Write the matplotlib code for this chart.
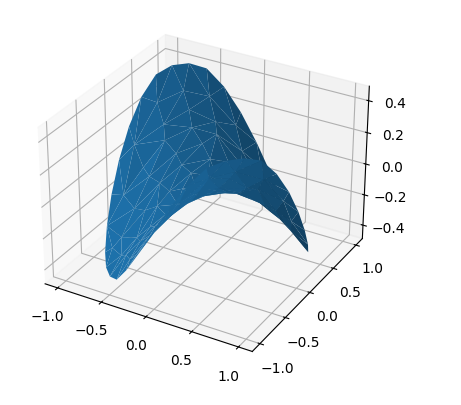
import matplotlib
matplotlib.use("Agg")
import matplotlib.pyplot as plt

# rim of the disk, then the irregular points inside it
x = [1.0, .985, .94, .866, .766, .643, .5, .342, .174,
     0.0, -.174, -.342, -.5, -.643, -.766, -.866, -.94, -.985,
     -1.0, -.985, -.94, -.866, -.766, -.643, -.5, -.342, -.174,
     0.0, .174, .342, .5, .643, .766, .866, .94, .985,
     .85, .72, .55, .38, .12, -.15, -.40, -.60, -.78, -.88,
     -.84, -.70, -.52, -.30, -.05, .20, .44, .62, .80, .88,
     .70, .62, .46, .25, -.02, -.28, -.50, -.66, -.73, -.66, -.46, -.22, .03, .30, .53, .68,
     .60, .50, .28, .05, -.22, -.42, -.60, -.62, -.52, -.33, -.10, .18, .40, .58,
     .47, .40, .20, -.03, -.28, -.45, -.48, -.38, -.20, .06, .28, .44,
     .36, .30, .10, -.15, -.35, -.33, -.12, .15, .33,
     .22, .14, -.05, -.22, -.20, -.02, .20,
     .05, -.10, .12, -.06,
     -.40, -.15, -.12, -.60, -.38, -.78, -.25, .10, .10]
y = [0.0, .174, .342, .5, .643, .766, .866, .94, .985,
     1.0, .985, .94, .866, .766, .643, .5, .342, .174,
     0.0, -.174, -.342, -.5, -.643, -.766, -.866, -.94, -.985,
     -1.0, -.985, -.94, -.866, -.766, -.643, -.5, -.342, -.174,
     .15, .40, .60, .80, .88, .84, .75, .58, .38, .10,
     -.18, -.45, -.66, -.82, -.87, -.84, -.72, -.55, -.33, -.08,
     .12, .36, .54, .68, .74, .66, .52, .30, .02, -.27, -.55, -.70, -.74, -.66, -.50, -.22,
     .08, .35, .55, .60, .58, .44, .22, -.05, -.30, -.52, -.60, -.58, -.46, -.25,
     .08, .26, .43, .48, .40, .18, -.08, -.30, -.44, -.47, -.38, -.15,
     -.05, .18, .36, .33, .12, -.15, -.35, -.33, -.18,
     .05, .18, .24, .08, -.12, -.22, -.12,
     .08, -.05, -.08, .15,
     -.78, -.92, -.78, -.62, -.62, -.50, -.55, -.90, -.70]
z = [0.0, -.171, -.321, -.433, -.47, -.47, -.433, -.321, -.171,
     0.0, .171, .321, .433, .47, .47, .433, .321, .171,
     0.0, -.171, -.321, -.433, -.47, -.47, -.433, -.321, -.171,
     0.0, .171, .321, .433, .47, .47, .433, .321, .171,
     -.13, -.29, -.33, -.30, -.11, .13, .30, .35, .30, .09,
     -.15, -.32, -.34, -.25, -.04, .17, .32, .34, .26, .07,
     -.08, -.22, -.25, -.17, .01, .18, .26, .20, -.01, -.18, -.25, -.15, .02, .20, .27, .15,
     -.05, -.18, -.15, -.03, .13, .18, .13, -.03, -.16, -.17, -.06, .10, .18, .15,
     -.04, -.10, -.09, .01, .11, .08, -.04, -.11, -.09, .03, .11, .07,
     .02, -.05, -.04, .05, .04, -.05, -.04, .05, .06,
     -.01, -.03, .01, .02, -.02, 0.0, .02,
     0.0, -.01, .01, .01,
     -.31, -.14, -.09, -.37, -.24, -.39, -.14, .09, .07]

fig = plt.figure(figsize=(4.61, 4.05))
ax = fig.add_subplot(projection="3d")
ax.plot_trisurf(x, y, z)
ax.set_xticks([-1.0, -0.5, 0.0, 0.5, 1.0])
ax.set_yticks([-1.0, -0.5, 0.0, 0.5, 1.0])
ax.set_zticks([-0.4, -0.2, 0.0, 0.2, 0.4])
ax.set_position([.0375, .0725, .80, .915])
plt.savefig("out.png", dpi=100)
